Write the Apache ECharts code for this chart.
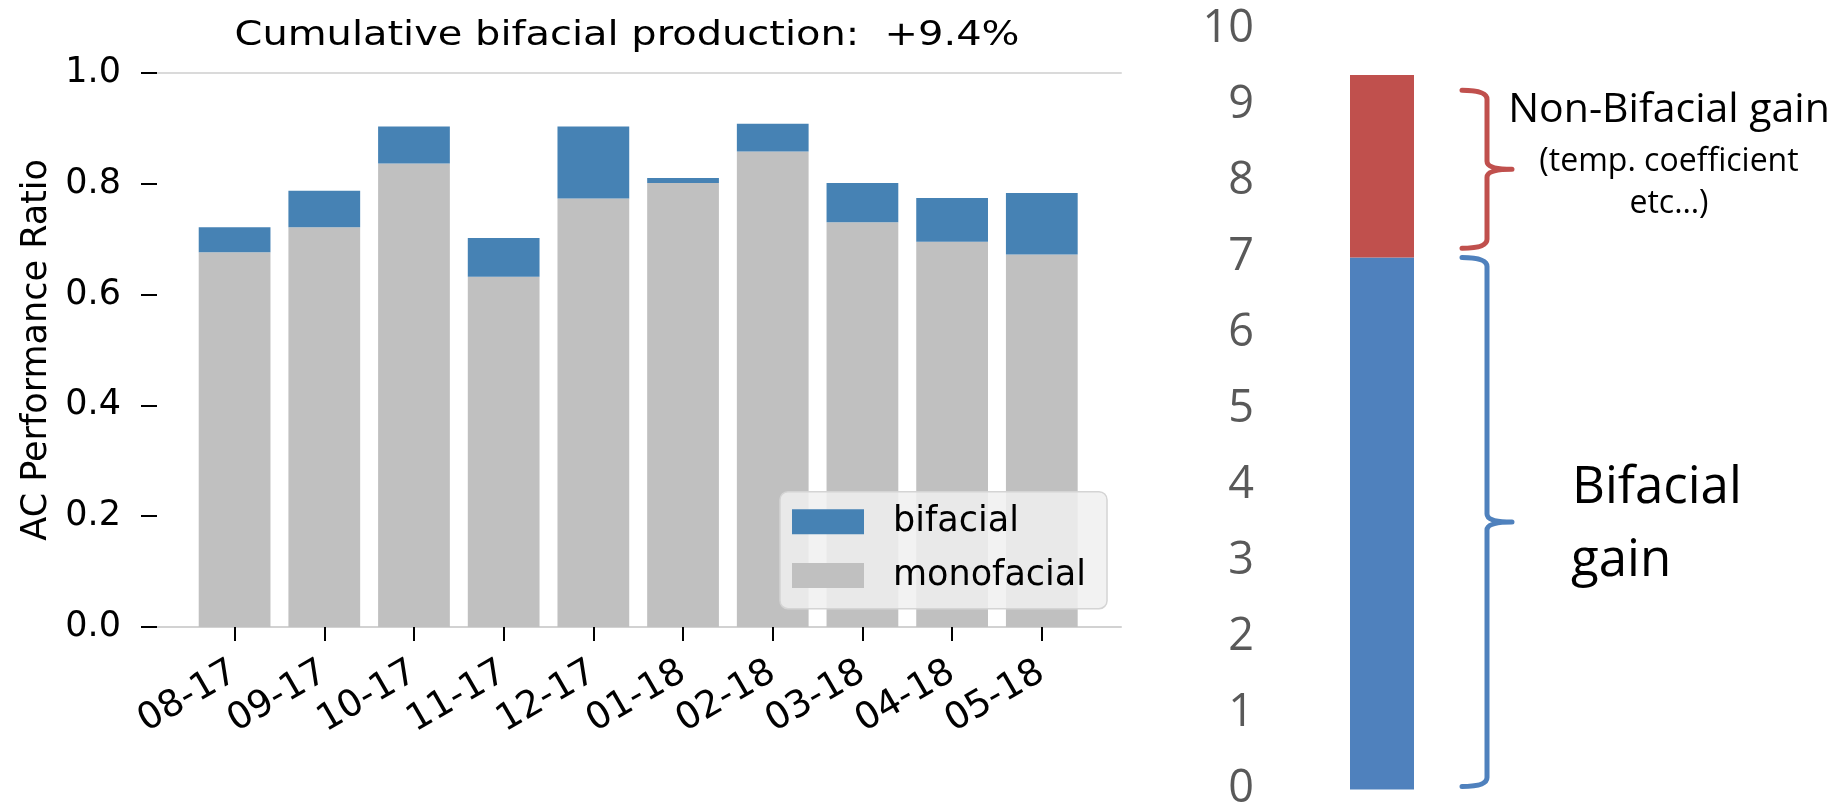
<!DOCTYPE html>
<html>
<head>
<meta charset="utf-8">
<title>Bifacial gain</title>
<script src="https://cdn.jsdelivr.net/npm/echarts@6/dist/echarts.min.js"></script>
<style>
  html, body { margin: 0; padding: 0; background: #fff; }
  #chart { width: 1837px; height: 812px; }
</style>
</head>
<body>
<div id="chart"></div>
<script>
// left panel: monthly AC performance ratio
var months = ['08-17', '09-17', '10-17', '11-17', '12-17', '01-18', '02-18', '03-18', '04-18', '05-18'];
var monofacial = [0.676, 0.721, 0.836, 0.632, 0.773, 0.801, 0.858, 0.730, 0.695, 0.672];
var bifacial = [0.045, 0.066, 0.067, 0.070, 0.130, 0.009, 0.050, 0.071, 0.079, 0.111];
var ratioTicks = ['0.0', '0.2', '0.4', '0.6', '0.8', '1.0'];

// right panel: split of the total gain
var gainCats = ['total'];
var bifacialGain = [7.0];
var nonBifacialGain = [2.4];
// [category index, low, high] of each brace
var braces = [[0, 7.12, 9.2], [0, 0.04, 7.0]];
var braceColors = ['#c0504d', '#4f81bd'];

var chart = echarts.init(document.getElementById('chart'));

var mpl = 'DejaVu Sans';
var xl = 'Open Sans';

chart.setOption({
  animation: false,
  backgroundColor: '#fff',
  grid: [
    // bars
    { left: 189.75, width: 896.9, top: 72.7, height: 554.3 },
    // frame with y axis and spines
    { left: 157, width: 964, top: 72.7, height: 554.3 },
    // right stacked column
    { left: 1318, width: 128, top: 29.4, height: 765 }
  ],
  legend: {
    data: ['bifacial', 'monofacial'],
    orient: 'vertical',
    left: 780,
    top: 491.7,
    padding: [12.6, 21, 15.7, 12],
    itemWidth: 72,
    itemHeight: 25,
    itemGap: 18.7,
    icon: 'rect',
    backgroundColor: 'rgba(240,240,240,0.85)',
    borderColor: '#d4d4d4',
    borderWidth: 1.5,
    borderRadius: 8,
    textStyle: { fontFamily: mpl, fontSize: 35, color: '#000', lineHeight: 34, padding: [0, 0, 0, 24] }
  },
  xAxis: [
    {
      type: 'category', gridIndex: 0, data: months,
      axisLine: { show: false },
      axisTick: { show: true, alignWithLabel: true, length: 14, lineStyle: { color: '#000', width: 2 } },
      axisLabel: { interval: 0, rotate: 30, margin: 43, fontFamily: mpl, fontSize: 37, color: '#000' }
    },
    {
      type: 'value', gridIndex: 1, position: 'bottom', min: 0, max: 1,
      axisLine: { show: true, lineStyle: { color: '#d2d2d2', width: 2 } },
      axisTick: { show: false }, axisLabel: { show: false }, splitLine: { show: false }
    },
    {
      type: 'value', gridIndex: 1, position: 'top', min: 0, max: 1,
      axisLine: { show: true, lineStyle: { color: '#dadada', width: 2 } },
      axisTick: { show: false }, axisLabel: { show: false }, splitLine: { show: false }
    },
    {
      type: 'category', gridIndex: 2, data: gainCats,
      axisLine: { show: false }, axisTick: { show: false }, axisLabel: { show: false }
    }
  ],
  yAxis: [
    { type: 'value', gridIndex: 0, min: 0, max: 1, show: false },
    {
      type: 'value', gridIndex: 1, min: 0, max: 1, interval: 0.2,
      name: 'AC Performance Ratio',
      nameLocation: 'middle',
      nameGap: 101,
      nameTextStyle: { fontFamily: mpl, fontSize: 35, color: '#000' },
      axisLine: { show: false },
      axisTick: { show: true, length: 16, lineStyle: { color: '#000', width: 2 } },
      axisLabel: {
        margin: 36, fontFamily: mpl, fontSize: 35, color: '#000',
        formatter: function (v) { return ratioTicks[Math.round(v / 0.2)]; }
      },
      splitLine: { show: false }
    },
    {
      type: 'value', gridIndex: 2, min: 0, max: 10, interval: 1,
      axisLine: { show: false }, axisTick: { show: false }, splitLine: { show: false },
      axisLabel: { margin: 64, fontFamily: xl, fontSize: 45, color: '#595959' }
    }
  ],
  series: [
    {
      name: 'monofacial', type: 'bar', stack: 'pr', xAxisIndex: 0, yAxisIndex: 0,
      barWidth: '80%', data: monofacial, itemStyle: { color: '#c0c0c0' }
    },
    {
      name: 'bifacial', type: 'bar', stack: 'pr', xAxisIndex: 0, yAxisIndex: 0,
      barWidth: '80%', data: bifacial, itemStyle: { color: '#4682b4' }
    },
    {
      name: 'Bifacial gain', type: 'bar', stack: 'gain', xAxisIndex: 3, yAxisIndex: 2,
      barWidth: '50%', data: bifacialGain, itemStyle: { color: '#4f81bd' }
    },
    {
      name: 'Non-Bifacial gain', type: 'bar', stack: 'gain', xAxisIndex: 3, yAxisIndex: 2,
      barWidth: '50%', data: nonBifacialGain, itemStyle: { color: '#c0504d' }
    },
    {
      name: 'braces', type: 'custom', xAxisIndex: 3, yAxisIndex: 2,
      data: braces,
      encode: { x: 0, y: [1, 2] },
      clip: false,
      renderItem: function (params, api) {
        var hi = api.coord([api.value(0), api.value(2)]);
        var lo = api.coord([api.value(0), api.value(1)]);
        var x = hi[0] + 105;
        var y1 = hi[1], y2 = lo[1], ym = (y1 + y2) / 2;
        var d = 'M' + (x - 25) + ' ' + y1 +
          ' Q' + x + ' ' + y1 + ' ' + x + ' ' + (y1 + 9) +
          ' L' + x + ' ' + (ym - 8) +
          ' Q' + x + ' ' + ym + ' ' + (x + 25) + ' ' + ym +
          ' Q' + x + ' ' + ym + ' ' + x + ' ' + (ym + 8) +
          ' L' + x + ' ' + (y2 - 9) +
          ' Q' + x + ' ' + y2 + ' ' + (x - 25) + ' ' + y2;
        return {
          type: 'path',
          shape: { pathData: d },
          style: { fill: 'none', stroke: braceColors[params.dataIndex], lineWidth: 5, lineCap: 'round', lineJoin: 'round' }
        };
      }
    }
  ],
  graphic: [
    {
      type: 'text', x: 627, y: 36, scaleX: 1.21,
      style: { text: 'Cumulative bifacial production:  +9.4%', fontFamily: mpl, fontSize: 33, fill: '#000', align: 'center', verticalAlign: 'middle' }
    },
    {
      type: 'text', x: 1669, y: 110,
      style: { text: 'Non-Bifacial gain', fontFamily: xl, fontSize: 41, fill: '#000', align: 'center', verticalAlign: 'middle' }
    },
    {
      type: 'text', x: 1669, y: 162,
      style: { text: '(temp. coefficient', fontFamily: xl, fontSize: 32, fill: '#000', align: 'center', verticalAlign: 'middle' }
    },
    {
      type: 'text', x: 1669, y: 204,
      style: { text: 'etc…)', fontFamily: xl, fontSize: 32, fill: '#000', align: 'center', verticalAlign: 'middle' }
    },
    {
      type: 'text', x: 1572, y: 488,
      style: { text: 'Bifacial', fontFamily: xl, fontSize: 51, fill: '#000', align: 'left', verticalAlign: 'middle' }
    },
    {
      type: 'text', x: 1571, y: 561,
      style: { text: 'gain', fontFamily: xl, fontSize: 51, fill: '#000', align: 'left', verticalAlign: 'middle' }
    }
  ]
});
</script>
</body>
</html>
